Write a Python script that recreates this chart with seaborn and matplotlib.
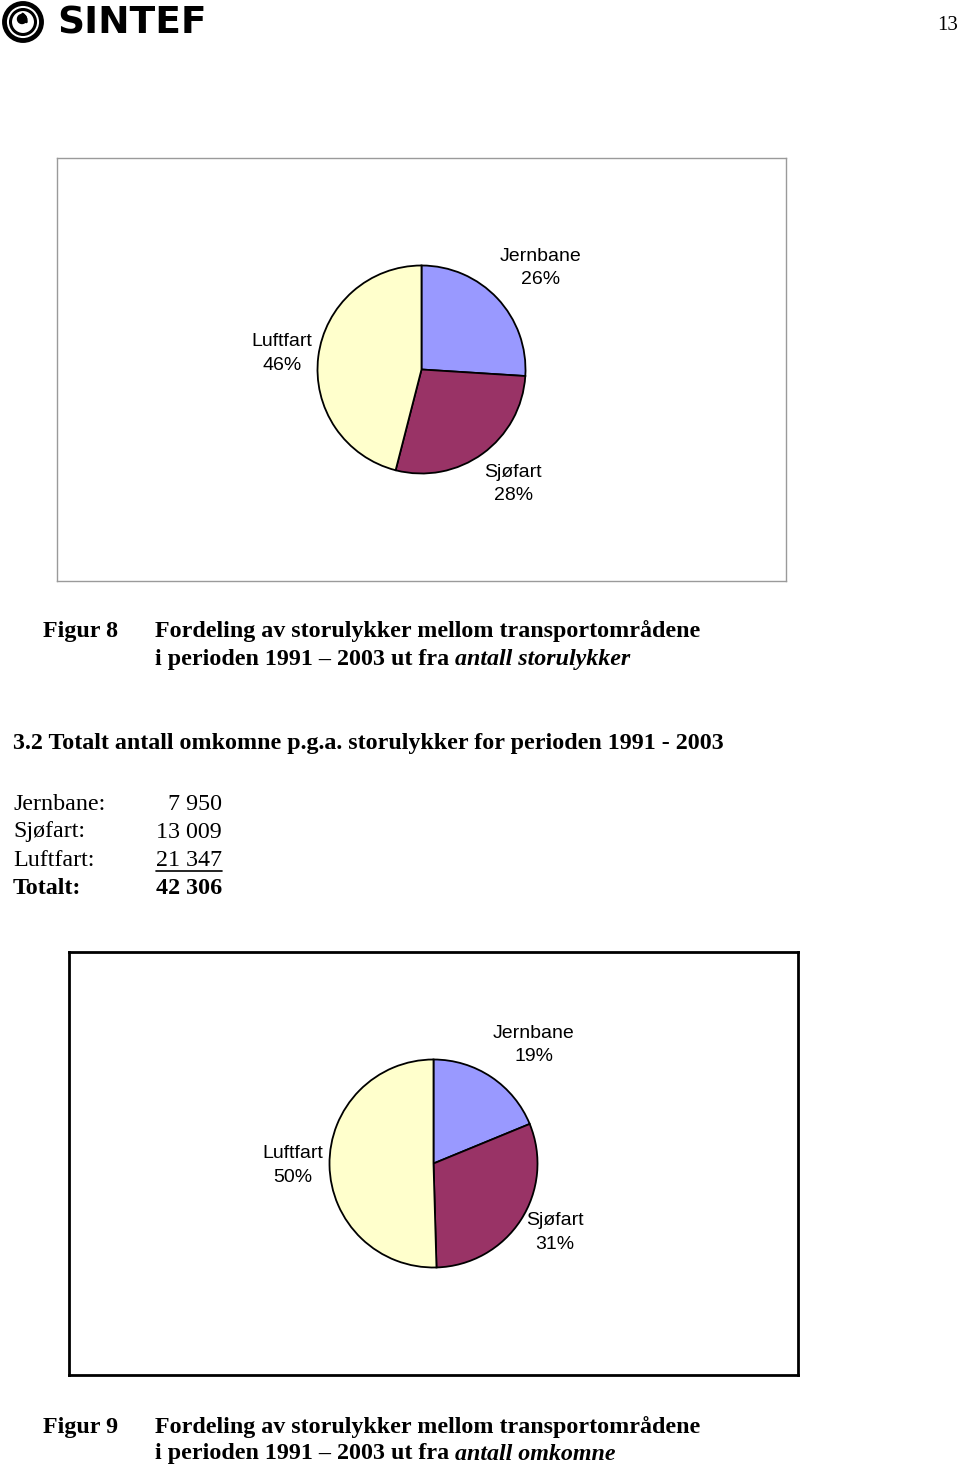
import matplotlib
matplotlib.use("Agg")
import matplotlib.pyplot as plt
import numpy as np
import seaborn as sns
from matplotlib.patches import Circle, Wedge

# Data
categories = ['Jernbane', 'Sjøfart', 'Luftfart']
share_storulykker = [26, 28, 46]        # % of antall storulykker (Figur 8)
omkomne = [7950, 13009, 21347]          # antall omkomne 1991-2003 (Figur 9)
pie_colors = ['#9999FF', '#993366', '#FFFFCC']

sns.set_theme(style='white')
plt.rcParams['font.family'] = ['Liberation Serif', 'DejaVu Serif']
plt.rcParams['text.color'] = 'black'
SANS = ['Liberation Sans', 'DejaVu Sans']
FS = 17.3

W, H = 960, 1467
fig = plt.figure(figsize=(W / 100, H / 100), dpi=100)

# page overlay in pixel coordinates
page = fig.add_axes([0, 0, 1, 1])
page.set_xlim(0, W)
page.set_ylim(H, 0)
page.axis('off')


def pie_box(x0, y0, x1, y1, values, edge, lw):
    ax = fig.add_axes([x0 / W, 1 - y1 / H, (x1 - x0) / W, (y1 - y0) / H])
    r_px = 104
    hw = (x1 - x0) / 2 / r_px
    hh = (y1 - y0) / 2 / r_px
    wedges, _ = ax.pie(values, colors=pie_colors, startangle=90, counterclock=False,
                       wedgeprops=dict(edgecolor='black', linewidth=1.3))
    ax.set_xlim(-hw, hw)
    ax.set_ylim(-hh, hh)
    pct = np.array(values) / sum(values) * 100
    for w, name, p in zip(wedges, categories, pct):
        ang = np.deg2rad((w.theta1 + w.theta2) / 2)
        c, s = np.cos(ang), np.sin(ang)
        ha = 'left' if c > 0 else 'right'
        if abs(s) < 0.6:
            va, px, py = 'center', 1.06 * c, 1.22 * s
        elif s > 0:
            va, px, py = 'bottom', 1.03 * c, 1.14 * s
        else:
            va, px, py = 'top', 1.03 * c, 1.12 * s
        ax.text(px, py, f'{name}\n{p:.0f}%', ha=ha, va=va,
                multialignment='center', fontsize=14, family=SANS, linespacing=1.5)
    ax.set_frame_on(True)
    for sp in ax.spines.values():
        sp.set_visible(True)
        sp.set_edgecolor(edge)
        sp.set_linewidth(lw)
    ax.set_xticks([])
    ax.set_yticks([])
    return ax


# Logo
page.add_patch(Circle((23, 22), 18.5, fill=False, lw=3.5, ec='black'))
page.add_patch(Circle((23, 22), 12.5, fill=False, lw=2.2, ec='black'))
page.add_patch(Circle((22, 19), 4.5, color='black'))
page.add_patch(Wedge((18, 21), 9, -60, 10, width=4, color='black'))
page.text(57, 23, 'SINTEF', family='DejaVu Sans', weight='heavy', fontsize=27,
          va='center', ha='left')
page.text(958, 26, '13', fontsize=15, ha='right', va='center')

# Figur 8
pie_box(57, 158, 786, 581, share_storulykker, '#9a9a9a', 1.0)
page.text(43, 631, 'Figur 8', weight='bold', fontsize=FS, va='center')
page.text(155, 631, 'Fordeling av storulykker mellom transportområdene',
          weight='bold', fontsize=FS, va='center')
t = page.text(155, 659, 'i perioden 1991 – 2003 ut fra ', weight='bold', fontsize=FS, va='center')
page.annotate('antall storulykker', xy=(1, 659), xycoords=(t, 'data'), weight='bold',
              style='italic', fontsize=FS, va='center', ha='left')

# Section heading and table
page.text(13, 743, '3.2 Totalt antall omkomne p.g.a. storulykker for perioden 1991 - 2003',
          weight='bold', fontsize=FS, va='center')
rows_y = [804, 832, 860]
for name, v, y in zip(categories, omkomne, rows_y):
    page.text(13, y, f'{name}:', fontsize=FS, va='center')
    page.text(222, y, f'{v:,}'.replace(',', ' '), fontsize=FS, va='center', ha='right')
page.plot([156, 222], [871, 871], color='black', lw=1.2)
page.text(13, 888, 'Totalt:', fontsize=FS, va='center', weight='bold')
page.text(222, 888, f'{sum(omkomne):,}'.replace(',', ' '), fontsize=FS, va='center',
          ha='right', weight='bold')

# Figur 9
pie_box(69, 952, 798, 1375, omkomne, 'black', 2.0)
page.text(43, 1427, 'Figur 9', weight='bold', fontsize=FS, va='center')
page.text(155, 1427, 'Fordeling av storulykker mellom transportområdene',
          weight='bold', fontsize=FS, va='center')
t = page.text(155, 1454, 'i perioden 1991 – 2003 ut fra ', weight='bold', fontsize=FS, va='center')
page.annotate('antall omkomne', xy=(1, 1454), xycoords=(t, 'data'), weight='bold',
              style='italic', fontsize=FS, va='center', ha='left')

fig.savefig('out.png', dpi=100)
